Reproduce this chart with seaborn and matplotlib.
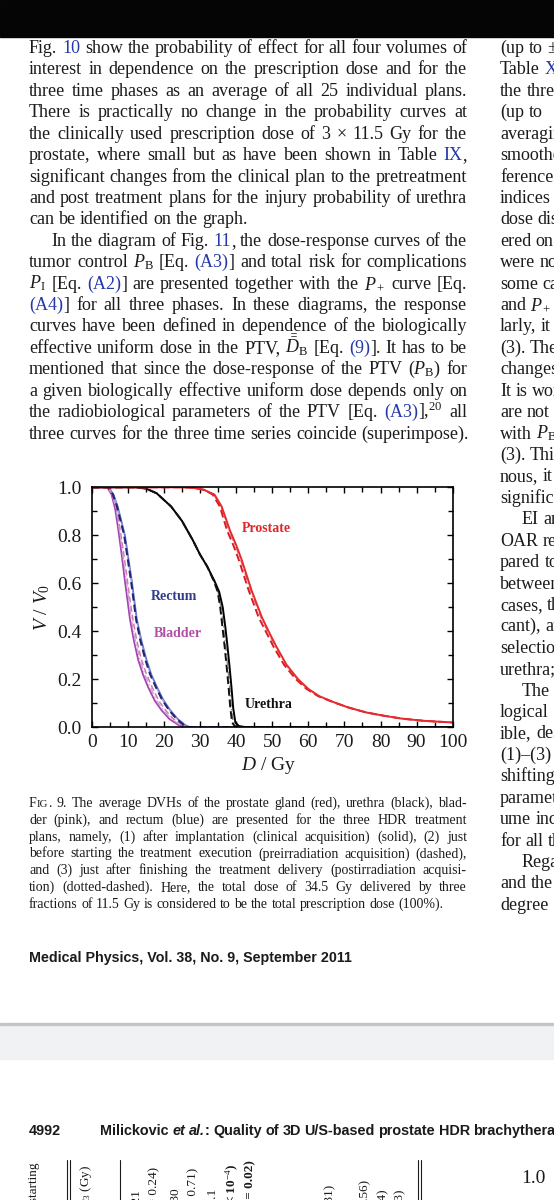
import re
import matplotlib
matplotlib.use('Agg')
import matplotlib.pyplot as plt
import seaborn as sns
from matplotlib.lines import Line2D
from matplotlib.patches import Rectangle
from matplotlib.ticker import MultipleLocator, FormatStrFormatter

# ---------------- data ----------------
pros_dose_solid = [0, 25, 28, 31, 34, 36, 38.3, 40, 41.5, 43, 44.3, 47.1, 49, 51.2, 54, 57.2, 60, 63, 67, 71, 76, 81, 86, 92, 100]
pros_dose_dash = [0, 25, 28, 31, 33.5, 35.5, 37.5, 39.2, 40.7, 42.2, 43.5, 46.2, 48.2, 50.4, 53.3, 56.6, 59.5, 62.7, 66.8, 71, 76, 81, 86, 92, 100]
pros_dose_dot = [0, 25, 28, 31, 33.8, 35.8, 38.0, 39.7, 41.2, 42.7, 44.0, 46.8, 48.7, 50.9, 53.8, 57.0, 59.8, 62.9, 67, 71, 76, 81, 86, 92, 100]
pros_vol = [1, 1, 0.998, 0.99, 0.97, 0.92, 0.82, 0.76, 0.70, 0.63, 0.57, 0.46, 0.40, 0.335, 0.26, 0.20, 0.16, 0.13, 0.105, 0.083, 0.062, 0.048, 0.036, 0.027, 0.02]

ure_dose_solid = [0, 12, 15, 18, 22, 25, 28, 30, 32, 34, 35.3, 36.3, 37.0, 37.6, 38.2, 38.7, 39.2, 39.8, 40.8, 43, 100]
ure_dose_dash = [0, 12, 15, 18, 22, 25, 28, 30, 32, 33.8, 34.9, 35.6, 36.2, 36.8, 37.4, 37.9, 38.4, 38.9, 39.6, 41, 100]
ure_dose_dot = [0, 12, 15, 18, 22, 25, 28, 30, 32, 33.9, 35.0, 35.8, 36.5, 37.1, 37.7, 38.2, 38.7, 39.2, 40.0, 42, 100]
ure_vol = [1, 1, 0.995, 0.975, 0.92, 0.86, 0.78, 0.72, 0.67, 0.61, 0.565, 0.50, 0.42, 0.34, 0.25, 0.17, 0.08, 0.02, 0.005, 0, 0]

blad_dose_solid = [0, 4.3, 5.5, 6.5, 7.4, 8.3, 9.2, 10.0, 10.6, 11.7, 12.9, 14.2, 15.7, 17.5, 19.4, 21.5, 24.0, 25.5, 100]
blad_dose_dash = [0, 4.5, 5.8, 6.9, 7.9, 8.9, 9.9, 10.7, 11.4, 12.5, 13.8, 15.2, 16.8, 18.6, 20.5, 22.6, 25.0, 26.5, 100]
blad_dose_dot = [0, 4.4, 5.7, 6.8, 7.7, 8.6, 9.6, 10.4, 11.0, 12.1, 13.4, 14.7, 16.3, 18.0, 19.9, 22.0, 24.5, 26.0, 100]
blad_vol = [1, 1, 0.97, 0.91, 0.82, 0.72, 0.61, 0.52, 0.45, 0.36, 0.28, 0.22, 0.165, 0.11, 0.07, 0.035, 0.01, 0, 0]

rect_dose_solid = [0, 4.6, 6, 7.2, 8.2, 9.2, 10.2, 11.1, 11.8, 12.5, 13.8, 15.2, 16.5, 18.0, 19.8, 21.7, 23.8, 25.8, 27.2, 100]
rect_dose_dash = [0, 4.5, 5.9, 7.0, 8.0, 9.0, 10.0, 10.9, 11.6, 12.3, 13.5, 14.9, 16.2, 17.7, 19.5, 21.4, 23.5, 25.5, 27.0, 100]
rect_dose_dot = [0, 4.6, 6.0, 7.1, 8.1, 9.1, 10.1, 11.0, 11.7, 12.4, 13.6, 15.0, 16.3, 17.8, 19.6, 21.5, 23.6, 25.6, 27.1, 100]
rect_vol = [1, 1, 0.97, 0.92, 0.86, 0.80, 0.70, 0.61, 0.53, 0.45, 0.36, 0.28, 0.22, 0.17, 0.115, 0.072, 0.035, 0.01, 0, 0]

x_ticks = [0, 10, 20, 30, 40, 50, 60, 70, 80, 90, 100]
y_ticks = [0.0, 0.2, 0.4, 0.6, 0.8, 1.0]

# page text ( |..| = link colour, ~..~ = small caps, `..` = italic )
left_lines = [
    "Fig. |10| show the probability of effect for all four volumes of",
    "interest in dependence on the prescription dose and for the",
    "three time phases as an average of all 25 individual plans.",
    "There is practically no change in the probability curves at",
    "the clinically used prescription dose of 3 × 11.5 Gy for the",
    "prostate, where small but as have been shown in Table |IX|,",
    "significant changes from the clinical plan to the pretreatment",
    "and post treatment plans for the injury probability of urethra",
    "can be identified on the graph.",
    "In the diagram of Fig. |11|, the dose-response curves of the",
    "tumor control $P_\\mathrm{B}$ [Eq. |(A3)|] and total risk for complications",
    "$P_\\mathrm{I}$ [Eq. |(A2)|] are presented together with the $P_+$ curve [Eq.",
    "|(A4)|] for all three phases. In these diagrams, the response",
    "curves have been defined in dependence of the biologically",
    "effective uniform dose in the PTV, $\\bar{\\bar{D}}_\\mathrm{B}$ [Eq. |(9)|]. It has to be",
    "mentioned that since the dose-response of the PTV ($P_\\mathrm{B}$) for",
    "a given biologically effective uniform dose depends only on",
    "the radiobiological parameters of the PTV [Eq. |(A3)|],${}^{20}$ all",
    "three curves for the three time series coincide (superimpose).",
]
left_indent = [9]
left_ragged = [8, 18]

right_lines = [
    "(up to ±1", "Table |X|", "the three", "(up to", "averaging", "smoothen",
    "ference", "indices", "dose dis", "ered on", "were not", "some cases",
    "and $P_+$", "larly, it", "(3). The", "changes", "It is wor", "are not",
    "with $P_\\mathrm{B}$", "(3). This", "nous, it", "significan", "EI and", "OAR res",
    "pared to", "between", "cases, th", "cant), an", "selection", "urethra;",
    "The r", "logical |p|", "ible, des", "(1)–(3)", "shifting", "paramete",
    "ume inc", "for all th", "Regar", "and the", "degree",
]
right_indent = [22, 30, 38]

caption_lines = [
    "F~IG~. 9. The average DVHs of the prostate gland (red), urethra (black), blad-",
    "der (pink), and rectum (blue) are presented for the three HDR treatment",
    "plans, namely, (1) after implantation (clinical acquisition) (solid), (2) just",
    "before starting the treatment execution (preirradiation acquisition) (dashed),",
    "and (3) just after finishing the treatment delivery (postirradiation acquisi-",
    "tion) (dotted-dashed). Here, the total dose of 34.5 Gy delivered by three",
    "fractions of 11.5 Gy is considered to be the total prescription dose (100%).",
]

footer_text = "Medical Physics, Vol. 38, No. 9, September 2011"
header_page = "4992"
header_title = "Milickovic `et` `al.`: Quality of 3D U/S-based prostate HDR brachytherapy"

# rotated table fragments on the next page: (x px, top px, text, bold)
table_bits = [
    (34, 1162, "just before starting", False),
    (86, 1165, "$D_{3}$ (Gy)", False),
    (137, 1189, "(0.21", False),
    (154, 1167, "(p = 0.24)", False),
    (176, 1187, "(0.30", False),
    (193, 1168, "(p = 0.71)", False),
    (213, 1188, "(0.1", False),
    (232, 1164, "(p < 10$^{-4}$)", True),
    (250, 1160, "(p = 0.02)", True),
    (330, 1184, "(0.31)", False),
    (365, 1179, "(0.56)", False),
    (383, 1188, "(0.4)", False),
    (400, 1188, "(0.3)", False),
]

# ---------------- style ----------------
W, H = 554, 1200
sns.set_theme(style='ticks')
plt.rcParams['font.family'] = ['Liberation Serif', 'DejaVu Serif']
plt.rcParams['mathtext.fontset'] = 'custom'
plt.rcParams['mathtext.rm'] = 'Liberation Serif'
plt.rcParams['mathtext.it'] = 'Liberation Serif:italic'
plt.rcParams['mathtext.bf'] = 'Liberation Serif:bold'
INK = '#1b1b1b'
LINK = '#2438a8'

fig = plt.figure(figsize=(W / 100, H / 100), dpi=100, facecolor='white')
renderer = fig.canvas.get_renderer()


def fit_size(s, width, base=10, **kw):
    t = fig.text(0, 0, s, fontsize=base, **kw)
    w = t.get_window_extent(renderer).width
    t.remove()
    return base * width / w


def put_line(y, x0, x1, text, size, justify=True, **kw):
    placed = []
    for word in text.split(' '):
        segs = []
        for piece in re.split(r'(\|[^|]*\||~[^~]*~|`[^`]*`)', word):
            if not piece:
                continue
            c, s, st = INK, size, 'normal'
            if piece[0] == '|':
                piece, c = piece[1:-1], LINK
            elif piece[0] == '~':
                piece, s = piece[1:-1], size * 0.78
            elif piece[0] == '`':
                piece, st = piece[1:-1], 'italic'
            t = fig.text(0, 1 - y / H, piece, color=c, fontsize=s, fontstyle=st,
                         va='baseline', ha='left', **kw)
            segs.append((t, t.get_window_extent(renderer).width))
        placed.append(segs)
    widths = [sum(w for _, w in segs) for segs in placed]
    gap = size * 100 / 72 * 0.25
    if justify and len(placed) > 1:
        gap = (x1 - x0 - sum(widths)) / (len(placed) - 1)
    x = x0
    for segs, ws in zip(placed, widths):
        for t, w in segs:
            t.set_x(x / W)
            x += w
        x += gap


# ---------------- page background pieces ----------------
fig.add_artist(Rectangle((0, 1 - 37 / H), 1, 37 / H, transform=fig.transFigure,
                         color='#050505', zorder=10))
fig.add_artist(Rectangle((0, 1 - 1059 / H), 1, 35 / H, transform=fig.transFigure,
                         color='#f1f2f4', zorder=0))
fig.add_artist(Rectangle((0, 1 - 1025 / H), 1, 2.5 / H, transform=fig.transFigure,
                         color='#c6c6c6', zorder=1))

# ---------------- body text ----------------
body = fit_size(left_lines[-1], 438)
step = 21.42
for i, s in enumerate(left_lines):
    x0 = 51 if i in left_indent else 29
    put_line(53 + step * i, x0, 467, s, body, justify=i not in left_ragged)
for i, s in enumerate(right_lines):
    x0 = 522 if i in right_indent else 500
    put_line(53 + step * i, x0, 700, s, body, justify=False)

cap = fit_size("fractions of 11.5 Gy is considered to be the total prescription dose (100%).", 415)
for i, s in enumerate(caption_lines):
    put_line(807 + 16.8 * i, 29, 467, s, cap, justify=i < 6)

sans = dict(family='Liberation Sans', weight='bold')
foot = fit_size(footer_text, 323, **sans)
fig.text(29 / W, 1 - 962 / H, footer_text, fontsize=foot, color=INK, va='baseline', **sans)
head = fit_size("Milickovic et al.: Quality of 3D U/S-based prostate HDR brachytherap", 470, **sans)
fig.text(29 / W, 1 - 1135 / H, header_page, fontsize=head, color=INK, va='baseline', **sans)
put_line(1135, 100, 700, header_title, head, justify=False, **sans)

# next-page table fragments
for x, top, s, bold in table_bits:
    fig.text(x / W, 1 - top / H, s, rotation=90, fontsize=9.5, color=INK, ha='center',
             va='top', weight='bold' if bold else 'normal')
for xl in (66.5, 69.5, 120, 418, 421):
    fig.add_artist(Line2D([xl / W, xl / W], [1 - 1160 / H, 0], transform=fig.transFigure,
                          color=INK, lw=0.8))
fig.text(533 / W, 1 - 1183 / H, "1.0", fontsize=14, color=INK, ha='center', va='baseline')

# ---------------- the chart ----------------
ax = fig.add_axes([91.7 / W, 1 - 727.3 / H, 361 / W, 240 / H])

curves = [
    (rect_dose_solid, rect_vol, '#6d72c9', '-', 1.3),
    (blad_dose_solid, blad_vol, '#a544b4', '-', 1.3),
    (blad_dose_dash, blad_vol, '#d27ab8', (4, 2), 1.1),
    (blad_dose_dot, blad_vol, '#c9a0d0', (5, 2, 1, 2), 1.0),
    (rect_dose_dot, rect_vol, '#9aa0dc', (5, 2, 1, 2), 1.0),
    (rect_dose_dash, rect_vol, '#1f2773', (3.5, 2), 1.5),
    (ure_dose_dot, ure_vol, '#8a8a8a', (5, 2, 1, 2), 1.0),
    (ure_dose_solid, ure_vol, '#000000', '-', 1.4),
    (ure_dose_dash, ure_vol, '#111111', (4, 2), 1.4),
    (pros_dose_dot, pros_vol, '#f08080', (5, 2, 1, 2), 1.0),
    (pros_dose_dash, pros_vol, '#d81e24', (4, 2), 1.4),
    (pros_dose_solid, pros_vol, '#e52b2f', '-', 1.4),
]
for xs, ys, c, ls, lw in curves:
    line = sns.lineplot(x=xs, y=ys, ax=ax, color=c, lw=lw, sort=False, estimator=None)
    if isinstance(ls, tuple):
        line.lines[-1].set_dashes(ls)

ax.text(48.5, 0.829, "Prostate", color='#e0262b', fontsize=10, weight='bold', ha='center', va='center')
ax.text(22.9, 0.547, "Rectum", color='#2f3a8e', fontsize=10, weight='bold', ha='center', va='center')
ax.text(24.0, 0.392, "Bladder", color='#b24fa4', fontsize=10, weight='bold', ha='center', va='center')
ax.text(48.9, 0.093, "Urethra", color='#111111', fontsize=10, weight='bold', ha='center', va='center')

ax.set_xlim(0, 100)
ax.set_ylim(0, 1)
ax.set_xticks(x_ticks)
ax.set_yticks(y_ticks)
ax.xaxis.set_minor_locator(MultipleLocator(5))
ax.yaxis.set_minor_locator(MultipleLocator(0.1))
ax.yaxis.set_major_formatter(FormatStrFormatter('%.1f'))
ax.tick_params(which='both', direction='in', top=True, right=True, color='black',
               width=1.0, labelsize=14, labelcolor=INK)
ax.tick_params(which='major', length=4.5)
ax.tick_params(which='minor', length=3.5)
ax.tick_params(axis='x', pad=5)
ax.tick_params(axis='y', pad=7)
for sp in ax.spines.values():
    sp.set_visible(True)
    sp.set_color('black')
    sp.set_linewidth(1.2)
ax.set_xlabel("$D$ / Gy", fontsize=14, color=INK)
ax.set_ylabel("$V$ / $V_0$", fontsize=14, color=INK)
ax.xaxis.set_label_coords(0.49, -0.115)
ax.yaxis.set_label_coords(-0.11, 0.5)

fig.savefig('out.png', dpi=100, facecolor='white')
